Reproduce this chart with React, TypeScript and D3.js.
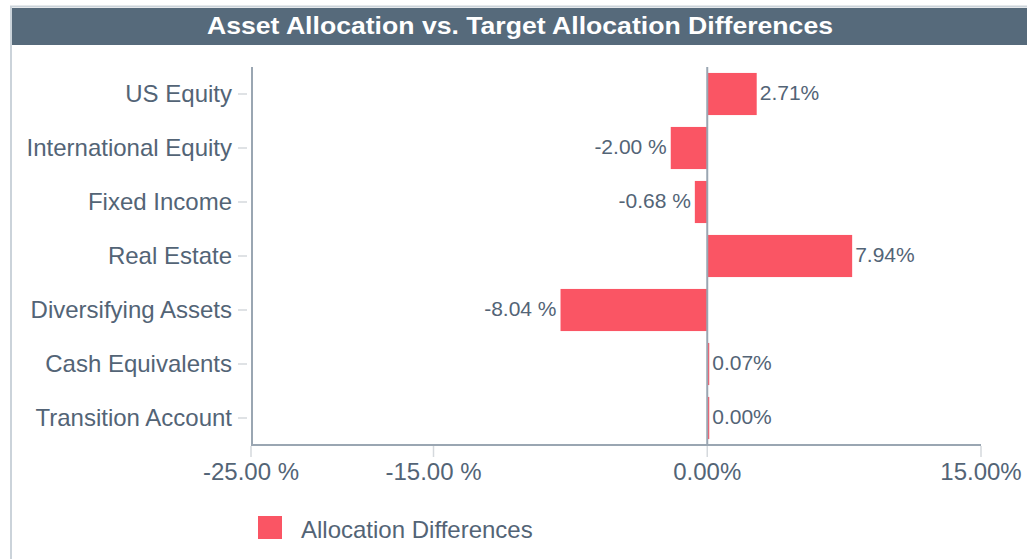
import React from "react";
import * as d3 from "d3";

const categories = [
  "US Equity",
  "International Equity",
  "Fixed Income",
  "Real Estate",
  "Diversifying Assets",
  "Cash Equivalents",
  "Transition Account",
];
const values = [2.71, -2.0, -0.68, 7.94, -8.04, 0.07, 0.0];
const xTicks = [-25, -15, 0, 15];
const title = "Asset Allocation vs. Target Allocation Differences";
const seriesName = "Allocation Differences";

const W = 1027;
const H = 559;
const left = 252;
const right = 981;
const top = 67;
const bottom = 445;
const textColor = "#536476";
const barColor = "#fa5564";
const font = "'Liberation Sans', Arial, sans-serif";

const fmt = (v: number) => (v < 0 ? `${v.toFixed(2)} %` : `${v.toFixed(2)}%`);

export default function App() {
  const x = d3.scaleLinear().domain([-25, 15]).range([251, right]);
  const y = d3.scaleBand<string>().domain(categories).range([top, bottom]).paddingInner(0.22).paddingOuter(0.11);
  const x0 = x(0);
  return (
    <svg width={W} height={H} style={{ position: "absolute", left: 0, top: 0, fontFamily: font }}>
      <rect x={0} y={0} width={W} height={H} fill="#fff" />
      <line x1={10} x2={W} y1={6.5} y2={6.5} stroke="#cbd3da" strokeWidth={2} />
      <line x1={11} x2={11} y1={6} y2={H} stroke="#cbd3da" strokeWidth={2} />
      <rect x={12} y={8} width={W - 12} height={37} fill="#566a7b" />
      <text x={520} y={34} textAnchor="middle" fill="#fff" fontSize={24} fontWeight="bold" textLength={626} lengthAdjust="spacingAndGlyphs">
        {title}
      </text>
      {/* y ticks */}
      {categories.map((c) => {
        const cy = (y(c) ?? 0) + y.bandwidth() / 2;
        return (
          <g key={c}>
            <line x1={238} x2={247} y1={cy} y2={cy} stroke="#d5d9dd" strokeWidth={1.5} />
            <text x={232} y={cy + 7.5} textAnchor="end" fill={textColor} fontSize={24}>
              {c}
            </text>
          </g>
        );
      })}
      {/* x ticks */}
      {xTicks.map((t) => (
        <g key={t}>
          <line x1={x(t)} x2={x(t)} y1={446} y2={457} stroke="#d5d9dd" strokeWidth={1.5} />
          <text x={x(t)} y={480} textAnchor="middle" fill={textColor} fontSize={24}>
            {fmt(t)}
          </text>
        </g>
      ))}
      {/* bars */}
      {values.map((v, i) => {
        const c = categories[i];
        const by = y(c) ?? 0;
        const bx = Math.min(x(v), x0);
        const bw = Math.max(Math.abs(x(v) - x0), 2);
        const cy = by + y.bandwidth() / 2;
        return (
          <g key={c}>
            <rect x={v < 0 ? bx : x0} y={by} width={bw} height={y.bandwidth()} fill={barColor} />
            <text
              x={v < 0 ? bx - 4 : x0 + bw + 3}
              y={cy + 5.5}
              textAnchor={v < 0 ? "end" : "start"}
              fill={textColor}
              fontSize={21}
            >
              {fmt(v)}
            </text>
          </g>
        );
      })}
      {/* axes */}
      <line x1={x0} x2={x0} y1={top} y2={bottom} stroke="#9aa6b2" strokeWidth={2} />
      <line x1={left} x2={left} y1={top} y2={bottom + 1} stroke="#9aa6b2" strokeWidth={2} />
      <line x1={left} x2={right} y1={bottom} y2={bottom} stroke="#9aa6b2" strokeWidth={2} />
      {/* legend */}
      <rect x={258} y={516} width={24} height={23} fill={barColor} />
      <text x={301} y={537.5} fill={textColor} fontSize={24}>
        {seriesName}
      </text>
    </svg>
  );
}
